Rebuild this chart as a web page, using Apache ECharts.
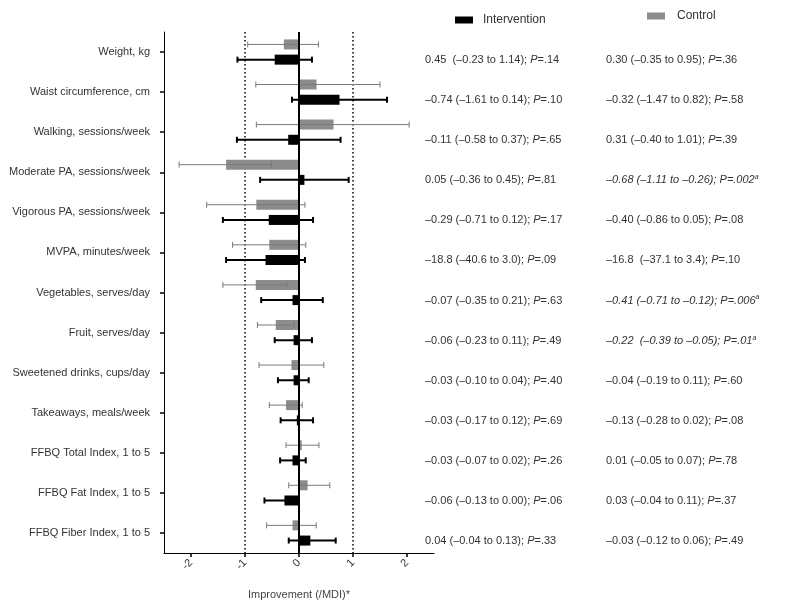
<!DOCTYPE html>
<html>
<head>
<meta charset="utf-8">
<script src="https://cdn.jsdelivr.net/npm/echarts@6/dist/echarts.min.js"></script>
<style>html,body{margin:0;padding:0;background:#fff;}#c{width:800px;height:605px;}</style>
</head>
<body>
<div id="c"></div>
<script>
const categories = [
  "Weight, kg", "Waist circumference, cm", "Walking, sessions/week",
  "Moderate PA, sessions/week", "Vigorous PA, sessions/week", "MVPA, minutes/week",
  "Vegetables, serves/day", "Fruit, serves/day", "Sweetened drinks, cups/day",
  "Takeaways, meals/week", "FFBQ Total Index, 1 to 5", "FFBQ Fat Index, 1 to 5",
  "FFBQ Fiber Index, 1 to 5"
];
// standardized improvement (/MDI): estimate, lower CI, upper CI
const interventionValue = [-0.45, 0.75, -0.20, 0.10, -0.56, -0.62, -0.12, -0.10, -0.10, -0.04, -0.12, -0.27, 0.21];
const interventionLow   = [-1.14, -0.13, -1.15, -0.72, -1.41, -1.35, -0.70, -0.45, -0.39, -0.34, -0.35, -0.64, -0.19];
const interventionHigh  = [0.24, 1.63, 0.77, 0.92, 0.26, 0.11, 0.44, 0.24, 0.18, 0.26, 0.125, 0.0, 0.68];
const controlValue = [-0.28, 0.325, 0.64, -1.35, -0.79, -0.55, -0.80, -0.43, -0.14, -0.24, 0.05, 0.16, -0.12];
const controlLow   = [-0.95, -0.80, -0.79, -2.22, -1.71, -1.23, -1.41, -0.77, -0.74, -0.55, -0.24, -0.19, -0.60];
const controlHigh  = [0.36, 1.50, 2.04, -0.51, 0.11, 0.125, -0.22, -0.09, 0.46, 0.06, 0.37, 0.57, 0.32];

const interventionText = [
  "0.45  (–0.23 to 1.14)", "–0.74 (–1.61 to 0.14)", "–0.11 (–0.58 to 0.37)",
  "0.05 (–0.36 to 0.45)", "–0.29 (–0.71 to 0.12)", "–18.8 (–40.6 to 3.0)",
  "–0.07 (–0.35 to 0.21)", "–0.06 (–0.23 to 0.11)", "–0.03 (–0.10 to 0.04)",
  "–0.03 (–0.17 to 0.12)", "–0.03 (–0.07 to 0.02)", "–0.06 (–0.13 to 0.00)",
  "0.04 (–0.04 to 0.13)"
];
const interventionP = [".14", ".10", ".65", ".81", ".17", ".09", ".63", ".49", ".40", ".69", ".26", ".06", ".33"];
const controlText = [
  "0.30 (–0.35 to 0.95)", "–0.32 (–1.47 to 0.82)", "0.31 (–0.40 to 1.01)",
  "–0.68 (–1.11 to –0.26)", "–0.40 (–0.86 to 0.05)", "–16.8  (–37.1 to 3.4)",
  "–0.41 (–0.71 to –0.12)", "–0.22  (–0.39 to –0.05)", "–0.04 (–0.19 to 0.11)",
  "–0.13 (–0.28 to 0.02)", "0.01 (–0.05 to 0.07)", "0.03 (–0.04 to 0.11)",
  "–0.03 (–0.12 to 0.06)"
];
const controlP = [".36", ".58", ".39", ".002", ".08", ".10", ".006", ".01", ".60", ".08", ".78", ".37", ".49"];
const controlSig = [false, false, false, true, false, false, true, true, false, false, false, false, false];
const xTicks = [-2, -1, 0, 1, 2];
const refLines = [-1, 0, 1];

const BLACK = "#000000", GRAY = "#8c8c8c";
const FONT = "Liberation Sans, Arial, sans-serif";

function barData(v, lo, hi) { return v.map((x, i) => [x, i, lo[i], hi[i]]); }

function makeBarRender(offset, color, lineColor, lineW) {
  return function (params, api) {
    const cat = api.value(1);
    const c0 = api.coord([0, cat]);
    const cy = c0[1] + offset;
    const xv = api.coord([api.value(0), cat])[0];
    const xl = api.coord([api.value(2), cat])[0];
    const xh = api.coord([api.value(3), cat])[0];
    const h = 10, cap = 3;
    return {
      type: "group",
      children: [
        { type: "rect", shape: { x: Math.min(c0[0], xv), y: cy - h / 2, width: Math.abs(xv - c0[0]), height: h }, style: { fill: color } },
        { type: "line", shape: { x1: xl, y1: cy, x2: xh, y2: cy }, style: { stroke: lineColor, lineWidth: lineW } },
        { type: "line", shape: { x1: xl, y1: cy - cap, x2: xl, y2: cy + cap }, style: { stroke: lineColor, lineWidth: lineW } },
        { type: "line", shape: { x1: xh, y1: cy - cap, x2: xh, y2: cy + cap }, style: { stroke: lineColor, lineWidth: lineW } }
      ]
    };
  };
}

function richLine(txt, p, sig) {
  if (sig) return "{i|" + txt + "; P=" + p + "}{sup|a}";
  return "{n|" + txt + "; }{p|P}{n|=" + p + "}";
}

function makeTextRender(xPx, texts, ps, sigs) {
  return function (params, api) {
    const i = api.value(1);
    const y = api.coord([0, i])[1] + 8;
    return {
      type: "text",
      x: xPx, y: y,
      style: {
        text: richLine(texts[i], ps[i], sigs ? sigs[i] : false),
        verticalAlign: "middle", align: "left",
        rich: {
          n: { fontSize: 11, fontFamily: FONT, fill: "#333" },
          p: { fontSize: 11, fontFamily: FONT, fill: "#333", fontStyle: "italic" },
          i: { fontSize: 11, fontFamily: FONT, fill: "#333", fontStyle: "italic" },
          sup: { fontSize: 7, fontFamily: FONT, fill: "#333", fontStyle: "italic", verticalAlign: "top", padding: [0, 0, 6, 0] }
        }
      }
    };
  };
}

function refRender(params, api) {
  const v = api.value(0);
  const x = api.coord([v, 0])[0];
  const cs = params.coordSys;
  const zero = v === 0;
  return {
    type: "line",
    shape: { x1: x, y1: cs.y, x2: x, y2: cs.y + cs.height },
    style: zero ? { stroke: "#000", lineWidth: 2 } : { stroke: "#000", lineWidth: 1.5, lineDash: [1.5, 2.5] }
  };
}

const chart = echarts.init(document.getElementById("c"), null, { renderer: "canvas" });
chart.setOption({
  backgroundColor: "#fff",
  animation: false,
  textStyle: { fontFamily: FONT },
  legend: [
    { data: ["Intervention"], left: 450, top: 9, icon: "rect", itemWidth: 18, itemHeight: 7,
      textStyle: { fontSize: 12, color: "#333", padding: [0, 0, 0, 5] }, selectedMode: false },
    { data: ["Control"], left: 642, top: 5, icon: "rect", itemWidth: 18, itemHeight: 7,
      textStyle: { fontSize: 12, color: "#333", padding: [0, 0, 0, 7] }, selectedMode: false }
  ],
  grid: { left: 164, right: 366, top: 32, bottom: 48 },
  xAxis: {
    type: "value", min: -2.5, max: 2.5,
    splitLine: { show: false },
    axisLine: { show: true, onZero: false, lineStyle: { color: "#000", width: 1 } },
    axisTick: { show: true, customValues: xTicks, length: 4, lineStyle: { color: "#000", width: 1.5 } },
    axisLabel: { customValues: xTicks, rotate: 45, fontSize: 11, color: "#333", margin: 8 },
    name: "Improvement (/MDI)*", nameLocation: "middle", nameGap: 36,
    nameTextStyle: { fontSize: 11, color: "#444" }
  },
  yAxis: {
    type: "category", inverse: true, data: categories,
    axisLine: { show: true, onZero: false, lineStyle: { color: "#000", width: 1 } },
    axisTick: { show: true, alignWithLabel: true, length: 4, lineStyle: { color: "#000", width: 1.5 } },
    axisLabel: { fontSize: 11, color: "#333", margin: 14 },
    splitLine: { show: false }
  },
  series: [
    { type: "custom", name: "refDotted", z: 1, silent: true,
      data: refLines.filter(v => v !== 0).map(v => [v, 0]), encode: { x: 0, y: 1 }, renderItem: refRender },
    { type: "custom", name: "Control", z: 2, itemStyle: { color: GRAY },
      data: barData(controlValue, controlLow, controlHigh), encode: { x: [0, 2, 3], y: 1 },
      renderItem: makeBarRender(-7.6, GRAY, "#7a7a7a", 1) },
    { type: "custom", name: "Intervention", z: 3, itemStyle: { color: BLACK },
      data: barData(interventionValue, interventionLow, interventionHigh), encode: { x: [0, 2, 3], y: 1 },
      renderItem: makeBarRender(7.6, BLACK, BLACK, 2) },
    { type: "custom", name: "refZero", z: 4, silent: true,
      data: refLines.filter(v => v === 0).map(v => [v, 0]), encode: { x: 0, y: 1 }, renderItem: refRender },
    { type: "custom", name: "intText", z: 5, silent: true, clip: false,
      data: categories.map((c, i) => [0, i]), encode: { x: 0, y: 1 },
      renderItem: makeTextRender(425, interventionText, interventionP, null) },
    { type: "custom", name: "ctlText", z: 5, silent: true, clip: false,
      data: categories.map((c, i) => [0, i]), encode: { x: 0, y: 1 },
      renderItem: makeTextRender(606, controlText, controlP, controlSig) }
  ]
});
</script>
</body>
</html>
